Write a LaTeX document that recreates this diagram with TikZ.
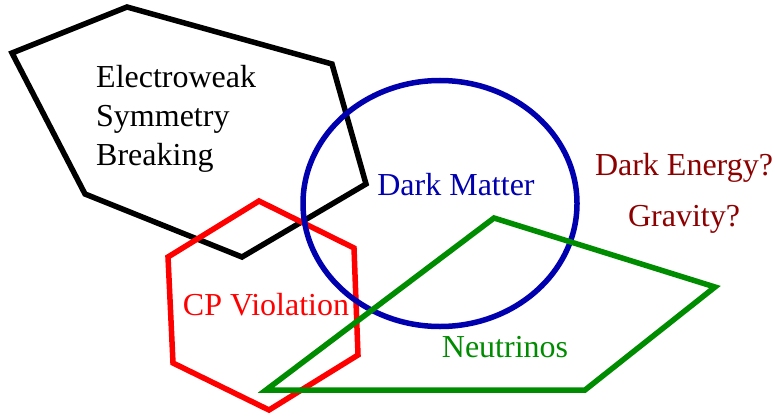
\documentclass[tikz,border=0pt]{standalone}
\usepackage{fontspec}
\setmainfont{Liberation Serif}
\usepackage{xcolor}
\usepackage{tikz}
\usetikzlibrary{positioning}
\definecolor{ewBlack}{RGB}{0, 0, 0}
\definecolor{cpRed}{RGB}{255, 0, 0}
\definecolor{dmBlue}{RGB}{0, 0, 175}
\definecolor{nuGreen}{RGB}{0, 140, 0}
\definecolor{deRed}{RGB}{140, 0, 0}
\tikzset{
    region/.style={
        line width=5.5pt,
        line join=miter
    },
    topic/.style={
        font=\fontsize{32}{39}\selectfont,
        align=left,
        inner sep=0pt
    }
}

\begin{document}
\begin{tikzpicture}[x=1pt, y=-1pt]
  \useasboundingbox (0,0) rectangle (775,417);

  % the four regions
  \draw[region, ewBlack] (12,53) -- (127,7) -- (332,64) -- (366,184) -- (242,257) -- (85,194) -- cycle;
  \draw[region, cpRed] (259,201) -- (354,248) -- (358,355) -- (269,410) -- (173,363) -- (168,257) -- cycle;
  \draw[region, dmBlue] (440,203.5) ellipse [x radius=137, y radius=123];
  \draw[region, nuGreen] (494,218) -- (715,287) -- (585,390) -- (266,390) -- cycle;

  % labels
  \node[topic, text=ewBlack, anchor=west] (ewsb) at (96,119) {Electroweak\\Symmetry\\Breaking};
  \node[topic, text=dmBlue] (dm) at (456,185) {Dark Matter};
  \node[topic, text=deRed] (de) at (684,168) {Dark Energy?};
  \node[topic, text=deRed, below=22pt of de.south] (grav) {Gravity?};
  \node[topic, text=cpRed] (cpv) at (266,305) {CP Violation};
  \node[topic, text=nuGreen] (nu) at (505,347) {Neutrinos};
\end{tikzpicture}
\end{document}
